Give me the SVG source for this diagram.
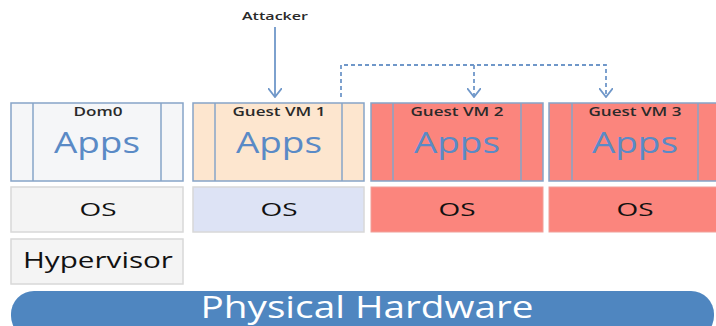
<svg xmlns="http://www.w3.org/2000/svg" width="716" height="326" viewBox="0 0 716 326">
<defs>
<style>
.box{stroke:#86a4c8;stroke-width:1.5}
.div{stroke:#86a4c8;stroke-width:1.5}
.lbl{font-family:"Open Sans","Liberation Sans",sans-serif;font-size:12px;font-weight:600;fill:#2a2a2a;text-anchor:middle}
.apps{font-family:"Open Sans","Liberation Sans",sans-serif;font-size:29px;fill:#5a8ac6;text-anchor:middle}
.os{font-family:"Open Sans","Liberation Sans",sans-serif;font-size:19px;fill:#111;text-anchor:middle}
.osbox{stroke:#d8d8d8;stroke-width:1.5}
.conn{stroke:#6f97c9;stroke-width:1.8;fill:none}
.dash{stroke-dasharray:4 3}
</style>
<marker id="ah" viewBox="0 0 10 14" refX="9" refY="7" markerWidth="10" markerHeight="14" markerUnits="userSpaceOnUse" orient="auto">
<path d="M0,0 L9,7 L0,14" fill="none" stroke="#6f97c9" stroke-width="1.8"/>
</marker>
</defs>
<rect width="716" height="326" fill="#ffffff"/>

<g id="dom0">
<rect class="box" x="11" y="103" width="172" height="78" fill="#f5f6f8"/>
<line class="div" x1="33" y1="103" x2="33" y2="181"/>
<line class="div" x1="161" y1="103" x2="161" y2="181"/>
<text class="lbl" x="98" y="116" textLength="49" lengthAdjust="spacingAndGlyphs">Dom0</text>
<text class="apps" x="97" y="153" textLength="86" lengthAdjust="spacingAndGlyphs">Apps</text>
</g>
<g id="dom0-os">
<rect class="osbox" x="11" y="187" width="172" height="45" fill="#f4f4f4"/>
<text class="os" x="98" y="216" textLength="37" lengthAdjust="spacingAndGlyphs">OS</text>
</g>

<g id="vm1">
<rect class="box" x="193" y="103" width="171" height="78" fill="#fde6cf"/>
<line class="div" x1="215" y1="103" x2="215" y2="181"/>
<line class="div" x1="342" y1="103" x2="342" y2="181"/>
<text class="lbl" x="279" y="116" textLength="93" lengthAdjust="spacingAndGlyphs">Guest VM 1</text>
<text class="apps" x="279" y="153" textLength="86" lengthAdjust="spacingAndGlyphs">Apps</text>
</g>
<g id="vm1-os">
<rect class="osbox" x="193" y="187" width="171" height="45" fill="#dde3f5"/>
<text class="os" x="279" y="216" textLength="37" lengthAdjust="spacingAndGlyphs">OS</text>
</g>

<g id="vm2">
<rect class="box" x="371" y="103" width="172" height="78" fill="#fb857d"/>
<line class="div" x1="393" y1="103" x2="393" y2="181"/>
<line class="div" x1="521" y1="103" x2="521" y2="181"/>
<text class="lbl" x="457" y="116" textLength="93" lengthAdjust="spacingAndGlyphs">Guest VM 2</text>
<text class="apps" x="457" y="153" textLength="86" lengthAdjust="spacingAndGlyphs">Apps</text>
</g>
<g id="vm2-os">
<rect x="371" y="187" width="172" height="45" fill="#fb857d" stroke="#f0a09a" stroke-width="1"/>
<text class="os" x="457" y="216" textLength="37" lengthAdjust="spacingAndGlyphs">OS</text>
</g>

<g id="vm3">
<rect class="box" x="549" y="103" width="172" height="78" fill="#fb857d"/>
<line class="div" x1="572" y1="103" x2="572" y2="181"/>
<line class="div" x1="698" y1="103" x2="698" y2="181"/>
<text class="lbl" x="635" y="116" textLength="93" lengthAdjust="spacingAndGlyphs">Guest VM 3</text>
<text class="apps" x="635" y="153" textLength="86" lengthAdjust="spacingAndGlyphs">Apps</text>
</g>
<g id="vm3-os">
<rect x="549" y="187" width="172" height="45" fill="#fb857d" stroke="#f0a09a" stroke-width="1"/>
<text class="os" x="635" y="216" textLength="37" lengthAdjust="spacingAndGlyphs">OS</text>
</g>

<g id="hypervisor">
<rect class="osbox" x="11" y="239" width="172" height="45" fill="#f4f4f4"/>
<text class="os" x="98" y="268" style="font-size:21px" textLength="150" lengthAdjust="spacingAndGlyphs">Hypervisor</text>
</g>

<g id="hardware">
<rect x="11" y="291" width="703" height="48" rx="23" ry="23" fill="#4f86c0"/>
<text x="367" y="318" font-family="Open Sans, Liberation Sans, sans-serif" font-size="31" fill="#ffffff" text-anchor="middle" textLength="333" lengthAdjust="spacingAndGlyphs">Physical Hardware</text>
</g>

<g id="attacker">
<text class="lbl" x="275" y="20" style="font-size:11px" textLength="66" lengthAdjust="spacingAndGlyphs">Attacker</text>
</g>

<g id="connectors">
<line class="conn" x1="275" y1="27" x2="275" y2="97" marker-end="url(#ah)"/>
<path class="conn dash" d="M341,97 L341,65 L606,65 L606,97" marker-end="url(#ah)"/>
<path class="conn dash" d="M474,65 L474,97" marker-end="url(#ah)"/>
</g>
</svg>
